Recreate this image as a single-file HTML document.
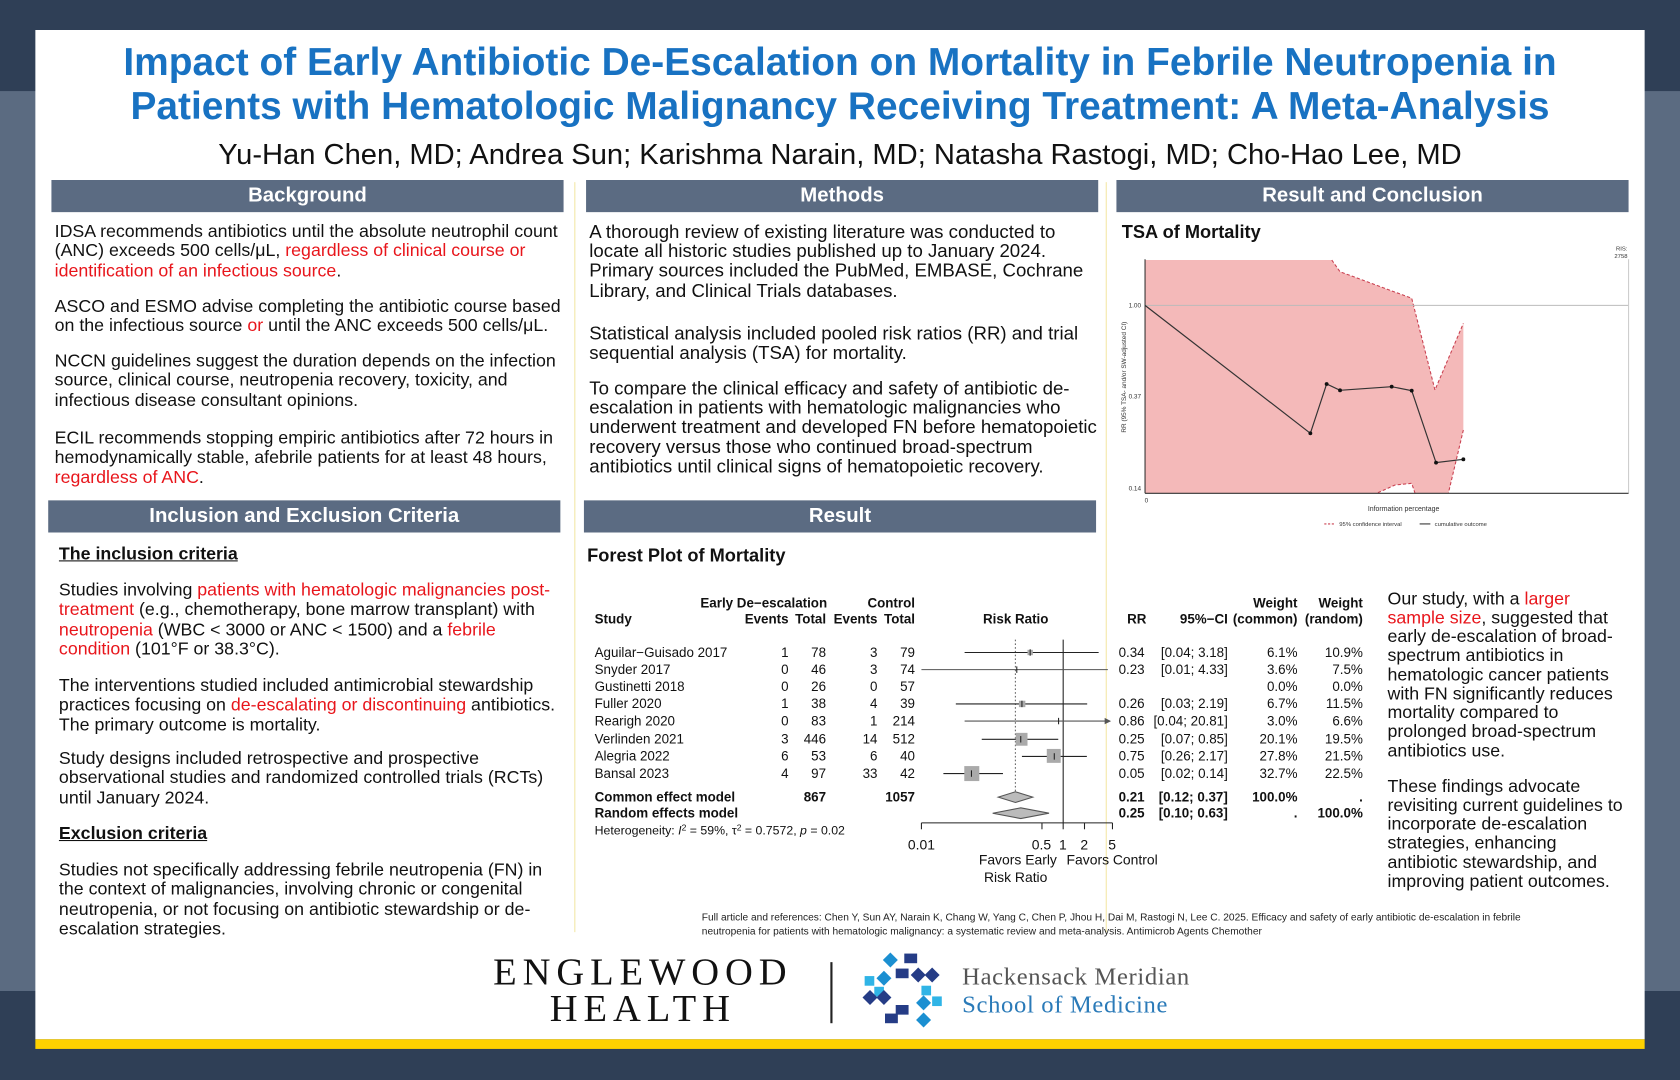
<!DOCTYPE html>
<html><head><meta charset="utf-8">
<style>
html,body{margin:0;padding:0;}
body{width:1680px;height:1080px;overflow:hidden;background:#2f3f56;font-family:"Liberation Sans",Arial,sans-serif;}
#s{position:absolute;left:0;top:0;width:1568px;height:1008px;transform:scale(1.071428);transform-origin:0 0;}
.band{position:absolute;left:0;width:1568px;}
.a{position:absolute;white-space:nowrap;}
.t{font-size:16.6px;line-height:18.3px;color:#111;}
.m{font-size:17.4px;line-height:18.2px;color:#111;}
.r{color:#e8151b;}
.hd{position:absolute;height:30px;background:#5b6b82;color:#fff;font-weight:bold;font-size:19px;line-height:30px;text-align:center;}
.vl{position:absolute;width:1px;background:#f3e7a6;}
</style></head><body>
<div id="s">
<div class="band" style="top:0;height:85px;background:#2f3f56"></div>
<div class="band" style="top:85px;height:840px;background:#5b6b81"></div>
<div class="band" style="top:925px;height:83px;background:#2f3f56"></div>
<div class="a" style="left:33px;top:28px;width:1502px;height:942px;background:#fff"></div>
<div class="a" style="left:33px;top:970px;width:1502px;height:9px;background:#ffd200"></div>

<div class="a" style="left:33px;width:1502px;top:37px;text-align:center;font-weight:bold;font-size:36.3px;line-height:41px;color:#1872c2">Impact of Early Antibiotic De-Escalation on Mortality in Febrile Neutropenia in<br>Patients with Hematologic Malignancy Receiving Treatment: A Meta-Analysis</div>
<div class="a" style="left:33px;width:1502px;top:128px;text-align:center;font-size:27.2px;line-height:32px;color:#111">Yu-Han Chen, MD; Andrea Sun; Karishma Narain, MD; Natasha Rastogi, MD; Cho-Hao Lee, MD</div>

<div class="vl" style="left:536px;top:170px;height:700px"></div>
<div class="vl" style="left:1032px;top:170px;height:700px"></div>

<div class="hd" style="left:48px;top:168px;width:478px">Background</div>
<div class="hd" style="left:547px;top:168px;width:478px">Methods</div>
<div class="hd" style="left:1042px;top:168px;width:478px">Result and Conclusion</div>
<div class="hd" style="left:45px;top:467px;width:478px">Inclusion and Exclusion Criteria</div>
<div class="hd" style="left:545px;top:467px;width:478px">Result</div>

<div class="a t" style="left:51px;top:207px">IDSA recommends antibiotics until the absolute neutrophil count<br>(ANC) exceeds 500 cells/μL, <span class="r">regardless of clinical course or</span><br><span class="r">identification of an infectious source</span>.</div>
<div class="a t" style="left:51px;top:277px">ASCO and ESMO advise completing the antibiotic course based<br>on the infectious source <span class="r">or</span> until the ANC exceeds 500 cells/μL.</div>
<div class="a t" style="left:51px;top:328px">NCCN guidelines suggest the duration depends on the infection<br>source, clinical course, neutropenia recovery, toxicity, and<br>infectious disease consultant opinions.</div>
<div class="a t" style="left:51px;top:400px">ECIL recommends stopping empiric antibiotics after 72 hours in<br>hemodynamically stable, afebrile patients for at least 48 hours,<br><span class="r">regardless of ANC</span>.</div>

<div class="a t" style="left:55px;top:508px;font-weight:bold;text-decoration:underline">The inclusion criteria</div>
<div class="a t" style="left:55px;top:542px">Studies involving <span class="r">patients with hematologic malignancies post-</span><br><span class="r">treatment</span> (e.g., chemotherapy, bone marrow transplant) with<br><span class="r">neutropenia</span> (WBC &lt; 3000 or ANC &lt; 1500) and a <span class="r">febrile</span><br><span class="r">condition</span> (101°F or 38.3°C).</div>
<div class="a t" style="left:55px;top:631px">The interventions studied included antimicrobial stewardship<br>practices focusing on <span class="r">de-escalating or discontinuing</span> antibiotics.<br>The primary outcome is mortality.</div>
<div class="a t" style="left:55px;top:699px">Study designs included retrospective and prospective<br>observational studies and randomized controlled trials (RCTs)<br>until January 2024.</div>
<div class="a t" style="left:55px;top:769px;font-weight:bold;text-decoration:underline">Exclusion criteria</div>
<div class="a t" style="left:55px;top:803px">Studies not specifically addressing febrile neutropenia (FN) in<br>the context of malignancies, involving chronic or congenital<br>neutropenia, or not focusing on antibiotic stewardship or de-<br>escalation strategies.</div>

<div class="a m" style="left:550px;top:207px">A thorough review of existing literature was conducted to<br>locate all historic studies published up to January 2024.<br>Primary sources included the PubMed, EMBASE, Cochrane<br>Library, and Clinical Trials databases.</div>
<div class="a m" style="left:550px;top:302px">Statistical analysis included pooled risk ratios (RR) and trial<br>sequential analysis (TSA) for mortality.</div>
<div class="a m" style="left:550px;top:353px">To compare the clinical efficacy and safety of antibiotic de-<br>escalation in patients with hematologic malignancies who<br>underwent treatment and developed FN before hematopoietic<br>recovery versus those who continued broad-spectrum<br>antibiotics until clinical signs of hematopoietic recovery.</div>

<div class="a" style="left:548px;top:509px;font-weight:bold;font-size:17px;color:#111">Forest Plot of Mortality</div>
<div class="a" style="left:1047px;top:207px;font-weight:bold;font-size:17px;color:#111">TSA of Mortality</div>

<div class="a t" style="left:1295px;top:550px;line-height:17.7px">Our study, with a <span class="r">larger</span><br><span class="r">sample size</span>, suggested that<br>early de-escalation of broad-<br>spectrum antibiotics in<br>hematologic cancer patients<br>with FN significantly reduces<br>mortality compared to<br>prolonged broad-spectrum<br>antibiotics use.</div>
<div class="a t" style="left:1295px;top:725px;line-height:17.7px">These findings advocate<br>revisiting current guidelines to<br>incorporate de-escalation<br>strategies, enhancing<br>antibiotic stewardship, and<br>improving patient outcomes.</div>

<!-- Forest plot -->
<svg class="a" style="left:0;top:0" width="1568" height="1008" font-family="Liberation Sans Narrow, Liberation Sans, sans-serif" font-size="12.5" fill="#111">
<g font-weight="bold">
<text x="772" y="567" text-anchor="end">Early De−escalation</text>
<text x="854" y="567" text-anchor="end">Control</text>
<text x="555" y="582">Study</text>
<text x="736" y="582" text-anchor="end">Events</text>
<text x="771" y="582" text-anchor="end">Total</text>
<text x="819" y="582" text-anchor="end">Events</text>
<text x="854" y="582" text-anchor="end">Total</text>
<text x="948" y="582" text-anchor="middle">Risk Ratio</text>
<text x="1070" y="582" text-anchor="end">RR</text>
<text x="1146" y="582" text-anchor="end">95%−CI</text>
<text x="1211" y="567" text-anchor="end">Weight</text>
<text x="1211" y="582" text-anchor="end">(common)</text>
<text x="1272" y="567" text-anchor="end">Weight</text>
<text x="1272" y="582" text-anchor="end">(random)</text>
</g>
<g style="white-space:pre">
<text x="555" y="613">Aguilar−Guisado 2017</text><text x="736" y="613" text-anchor="end">1</text><text x="771" y="613" text-anchor="end">78</text><text x="819" y="613" text-anchor="end">3</text><text x="854" y="613" text-anchor="end">79</text><text x="1044" y="613">0.34</text><text x="1146" y="613" text-anchor="end">[0.04;   3.18]</text><text x="1211" y="613" text-anchor="end">6.1%</text><text x="1272" y="613" text-anchor="end">10.9%</text>
<text x="555" y="629">Snyder 2017</text><text x="736" y="629" text-anchor="end">0</text><text x="771" y="629" text-anchor="end">46</text><text x="819" y="629" text-anchor="end">3</text><text x="854" y="629" text-anchor="end">74</text><text x="1044" y="629">0.23</text><text x="1146" y="629" text-anchor="end">[0.01;   4.33]</text><text x="1211" y="629" text-anchor="end">3.6%</text><text x="1272" y="629" text-anchor="end">7.5%</text>
<text x="555" y="645">Gustinetti 2018</text><text x="736" y="645" text-anchor="end">0</text><text x="771" y="645" text-anchor="end">26</text><text x="819" y="645" text-anchor="end">0</text><text x="854" y="645" text-anchor="end">57</text><text x="1211" y="645" text-anchor="end">0.0%</text><text x="1272" y="645" text-anchor="end">0.0%</text>
<text x="555" y="661">Fuller 2020</text><text x="736" y="661" text-anchor="end">1</text><text x="771" y="661" text-anchor="end">38</text><text x="819" y="661" text-anchor="end">4</text><text x="854" y="661" text-anchor="end">39</text><text x="1044" y="661">0.26</text><text x="1146" y="661" text-anchor="end">[0.03;   2.19]</text><text x="1211" y="661" text-anchor="end">6.7%</text><text x="1272" y="661" text-anchor="end">11.5%</text>
<text x="555" y="677">Rearigh 2020</text><text x="736" y="677" text-anchor="end">0</text><text x="771" y="677" text-anchor="end">83</text><text x="819" y="677" text-anchor="end">1</text><text x="854" y="677" text-anchor="end">214</text><text x="1044" y="677">0.86</text><text x="1146" y="677" text-anchor="end">[0.04; 20.81]</text><text x="1211" y="677" text-anchor="end">3.0%</text><text x="1272" y="677" text-anchor="end">6.6%</text>
<text x="555" y="694">Verlinden 2021</text><text x="736" y="694" text-anchor="end">3</text><text x="771" y="694" text-anchor="end">446</text><text x="819" y="694" text-anchor="end">14</text><text x="854" y="694" text-anchor="end">512</text><text x="1044" y="694">0.25</text><text x="1146" y="694" text-anchor="end">[0.07;   0.85]</text><text x="1211" y="694" text-anchor="end">20.1%</text><text x="1272" y="694" text-anchor="end">19.5%</text>
<text x="555" y="710">Alegria 2022</text><text x="736" y="710" text-anchor="end">6</text><text x="771" y="710" text-anchor="end">53</text><text x="819" y="710" text-anchor="end">6</text><text x="854" y="710" text-anchor="end">40</text><text x="1044" y="710">0.75</text><text x="1146" y="710" text-anchor="end">[0.26;   2.17]</text><text x="1211" y="710" text-anchor="end">27.8%</text><text x="1272" y="710" text-anchor="end">21.5%</text>
<text x="555" y="726">Bansal 2023</text><text x="736" y="726" text-anchor="end">4</text><text x="771" y="726" text-anchor="end">97</text><text x="819" y="726" text-anchor="end">33</text><text x="854" y="726" text-anchor="end">42</text><text x="1044" y="726">0.05</text><text x="1146" y="726" text-anchor="end">[0.02;   0.14]</text><text x="1211" y="726" text-anchor="end">32.7%</text><text x="1272" y="726" text-anchor="end">22.5%</text>
</g>
<g font-weight="bold" style="white-space:pre">
<text x="555" y="748">Common effect model</text><text x="771" y="748" text-anchor="end">867</text><text x="854" y="748" text-anchor="end">1057</text><text x="1044" y="748">0.21</text><text x="1146" y="748" text-anchor="end">[0.12;   0.37]</text><text x="1211" y="748" text-anchor="end">100.0%</text><text x="1272" y="748" text-anchor="end">.</text>
<text x="555" y="763">Random effects model</text><text x="1044" y="763">0.25</text><text x="1146" y="763" text-anchor="end">[0.10;   0.63]</text><text x="1211" y="763" text-anchor="end">.</text><text x="1272" y="763" text-anchor="end">100.0%</text>
</g>
<text x="555" y="779" font-size="11.5">Heterogeneity: <tspan font-style="italic">I</tspan><tspan dy="-4" font-size="8">2</tspan><tspan dy="4"> = 59%, τ</tspan><tspan dy="-4" font-size="8">2</tspan><tspan dy="4"> = 0.7572, </tspan><tspan font-style="italic">p</tspan> = 0.02</text>
<line x1="947.7" y1="597" x2="947.7" y2="740" stroke="#666" stroke-dasharray="1.5,2"/>
<line x1="992.3" y1="597" x2="992.3" y2="768" stroke="#222"/>
<g stroke="#222">
<line x1="900.3" y1="609" x2="1025.4" y2="609"/><rect x="959" y="606.5" width="5" height="5" fill="#aaa" stroke="none"/>
<line x1="860" y1="625" x2="1034" y2="625" stroke="#555"/>
<line x1="892.1" y1="657" x2="1014.7" y2="657"/><rect x="951" y="654" width="6" height="6" fill="#aaa" stroke="none"/>
<line x1="900.3" y1="673" x2="1036" y2="673" stroke="#555"/><path d="M1031 670 L1037 673 L1031 676Z" fill="#555" stroke="none"/>
<line x1="916.3" y1="690" x2="987.7" y2="690"/><rect x="948" y="684" width="11" height="12" fill="#aaa" stroke="none"/>
<line x1="953.8" y1="706" x2="1014.4" y2="706"/><rect x="977" y="699" width="13" height="13" fill="#aaa" stroke="none"/>
<line x1="880.5" y1="722" x2="936.1" y2="722"/><rect x="900" y="715" width="14" height="14" fill="#aaa" stroke="none"/>
<line x1="961.5" y1="606" x2="961.5" y2="612"/><line x1="953.8" y1="654" x2="953.8" y2="660"/><line x1="949" y1="622" x2="949" y2="628"/><line x1="988" y1="670" x2="988" y2="676"/><line x1="952.7" y1="687" x2="952.7" y2="693"/><line x1="984" y1="703" x2="984" y2="709"/><line x1="906.7" y1="719" x2="906.7" y2="725"/>
</g>
<path d="M931.7 744 L947.7 739 L963.9 744 L947.7 749Z" fill="#bbb" stroke="#555"/>
<path d="M926.5 759 L952.7 754 L979.1 759 L952.7 764Z" fill="#bbb" stroke="#555"/>
<g stroke="#222"><line x1="860" y1="768" x2="1038.3" y2="768"/><line x1="860" y1="768" x2="860" y2="774"/><line x1="972.5" y1="768" x2="972.5" y2="774"/><line x1="992.3" y1="768" x2="992.3" y2="774"/><line x1="1012.2" y1="768" x2="1012.2" y2="774"/><line x1="1038.3" y1="768" x2="1038.3" y2="774"/></g>
<g font-size="13" text-anchor="middle"><text x="860" y="793">0.01</text><text x="972" y="793">0.5</text><text x="992" y="793">1</text><text x="1012" y="793">2</text><text x="1038" y="793">5</text>
<text x="950" y="807">Favors Early</text><text x="1038" y="807">Favors Control</text><text x="948" y="823">Risk Ratio</text></g>
</svg>

<!-- TSA -->
<svg class="a" style="left:0;top:0" width="1568" height="1008" font-family="Liberation Sans, sans-serif">
<path d="M1068.7 242.7 L1243 242.7 L1250.7 253.6 L1317.6 278.4 L1339.3 364 L1365.8 301.8 L1365.8 401.3 L1351.8 460.4 L1320.7 460.4 L1317.6 451.1 L1302 452.7 L1284.9 460.4 L1068.7 460.4Z" fill="#f4b9b9"/>
<path d="M1243 242.7 L1250.7 253.6 L1317.6 278.4 L1339.3 364 L1365.8 301.8 M1365.8 401.3 L1351.8 460.4 M1320.7 460.4 L1317.6 451.1 L1302 452.7 L1284.9 460.4" fill="none" stroke="#c94050" stroke-width="1" stroke-dasharray="3,2"/>
<line x1="1068.7" y1="285" x2="1520" y2="285" stroke="#bbb"/>
<line x1="1520" y1="242" x2="1520" y2="460" stroke="#ccc"/>
<line x1="1068.7" y1="242" x2="1068.7" y2="460.4" stroke="#333"/>
<line x1="1068.7" y1="460.4" x2="1520" y2="460.4" stroke="#333"/>
<polyline points="1068.7,285 1223,404.4 1238.2,358.4 1250.7,364.3 1298.9,360.9 1317.6,364.6 1340.3,431.8 1365.8,428.7" fill="none" stroke="#333" stroke-width="1.1"/>
<g fill="#111"><circle cx="1223" cy="404.4" r="1.8"/><circle cx="1238.2" cy="358.4" r="1.8"/><circle cx="1250.7" cy="364.3" r="1.8"/><circle cx="1298.9" cy="360.9" r="1.8"/><circle cx="1317.6" cy="364.6" r="1.8"/><circle cx="1340.3" cy="431.8" r="1.8"/><circle cx="1365.8" cy="428.7" r="1.8"/></g>
<g font-size="6" fill="#333" text-anchor="end"><text x="1065" y="287">1.00</text><text x="1065" y="372">0.37</text><text x="1065" y="458">0.14</text></g>
<text x="1070" y="469" font-size="6" fill="#333" text-anchor="middle">0</text>
<text transform="translate(1051,352) rotate(-90)" font-size="6" fill="#333" text-anchor="middle">RR (95% TSA- and/or SW-adjusted CI)</text>
<text x="1310" y="477" font-size="6.5" fill="#333" text-anchor="middle">Information percentage</text>
<line x1="1236" y1="489" x2="1246" y2="489" stroke="#c94050" stroke-dasharray="2,1.5"/>
<text x="1250" y="491" font-size="5.5" fill="#333">95% confidence interval</text>
<line x1="1325" y1="489" x2="1335" y2="489" stroke="#333"/>
<text x="1339" y="491" font-size="5.5" fill="#333">cumulative outcome</text>
<text x="1519" y="234" font-size="5.5" fill="#333" text-anchor="end">RIS:</text>
<text x="1519" y="241" font-size="5.5" fill="#333" text-anchor="end">2758</text>
</svg>

<div class="a" style="left:655px;top:851px;font-family:'Liberation Sans Narrow','Liberation Sans',sans-serif;font-size:9.5px;line-height:12.5px;color:#222">Full article and references: Chen Y, Sun AY, Narain K, Chang W, Yang C, Chen P, Jhou H, Dai M, Rastogi N, Lee C. 2025. Efficacy and safety of early antibiotic de-escalation in febrile<br>neutropenia for patients with hematologic malignancy: a systematic review and meta-analysis. Antimicrob Agents Chemother</div>

<div class="a" style="left:440px;top:890px;width:320px;text-align:center;font-family:'Liberation Serif',serif;font-size:36px;line-height:34px;letter-spacing:5.5px;color:#111">ENGLEWOOD<br>HEALTH</div>
<div class="a" style="left:775px;top:898px;width:2px;height:57px;background:#222"></div>
<svg class="a" style="left:800px;top:888px" width="90" height="75">
<g fill="#1b8fd1"><path d="M24 8 L31 1 L38 8 L31 15Z"/><rect x="7" y="23" width="9" height="9" fill="#2fb4e6"/><rect x="16" y="33" width="9" height="9" fill="#2fb4e6"/><rect x="60" y="32" width="9" height="9" fill="#2fb4e6"/><rect x="70" y="42" width="9" height="9" fill="#2fb4e6"/><path d="M18 25 L25 18 L32 25 L25 32Z"/><path d="M55 64 L62 57 L69 64 L62 71Z"/><path d="M55 48 L62 41 L69 48 L62 55Z"/></g>
<g fill="#253c86"><rect x="44" y="2" width="12" height="9"/><rect x="36" y="16" width="12" height="9"/><path d="M50 22 L57 15 L64 22 L57 29Z"/><path d="M63 22 L70 15 L77 22 L70 29Z"/><path d="M5 43 L12 36 L19 43 L12 50Z"/><path d="M18 43 L25 36 L32 43 L25 50Z"/><rect x="36" y="50" width="12" height="9"/><rect x="26" y="58" width="12" height="9"/></g>
</svg>
<div class="a" style="left:898px;top:899px;font-family:'Liberation Serif',serif;font-size:23px;letter-spacing:0.6px;line-height:26px;color:#555">Hackensack Meridian<br><span style="color:#2a7ab8">School of Medicine</span></div>
</div>
</body></html>
